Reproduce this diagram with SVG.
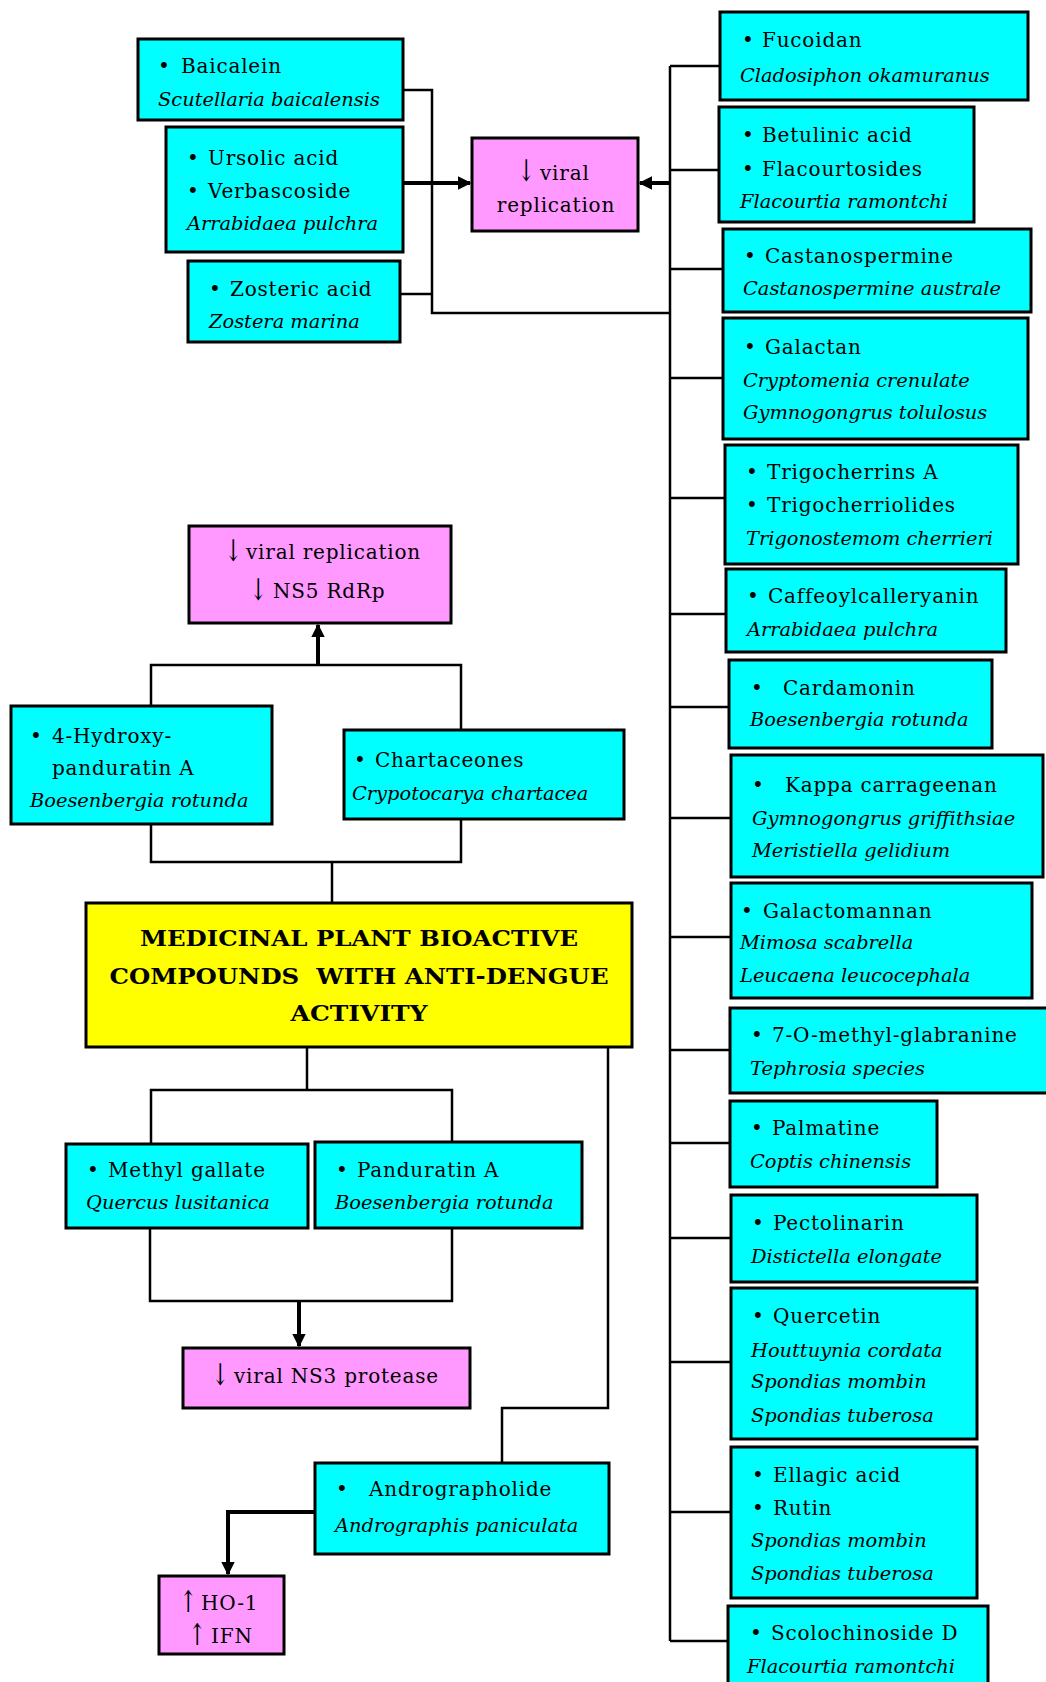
<svg xmlns="http://www.w3.org/2000/svg" width="1046" height="1682" viewBox="0 0 1046 1682">
<style>
.c{fill:#00FFFF;stroke:#000;stroke-width:3}
.m{fill:#FF99FF;stroke:#000;stroke-width:3}
.y{fill:#FFFF00;stroke:#000;stroke-width:3}
text{font-family:"DejaVu Serif","Liberation Serif",serif;font-size:20px;letter-spacing:0.8px;fill:#000}
.i{font-style:italic;font-size:19.4px;letter-spacing:0}
.mid{text-anchor:middle}
.arw{font-size:20px;text-anchor:middle;letter-spacing:0}
.t{font-weight:bold;font-size:23px;text-anchor:middle;letter-spacing:0}
.ln{fill:none;stroke:#000;stroke-width:2.5}
.ar{fill:none;stroke:#000;stroke-width:4}
</style>
<defs>
<marker id="ah" viewBox="0 0 10 10" refX="9" refY="5" markerWidth="3.4" markerHeight="3.4" orient="auto" markerUnits="strokeWidth">
<path d="M0,0 L10,5 L0,10 z" fill="#000"/>
</marker>
</defs>
<rect width="1046" height="1682" fill="#fff"/>
<g id="connectors">
<polyline class="ln" points="403,90 432,90 432,313 670,313"/>
<line class="ln" x1="400" y1="294" x2="432" y2="294"/>
<line class="ar" x1="403" y1="183" x2="470" y2="183" marker-end="url(#ah)"/>
<line class="ar" x1="670" y1="183" x2="640" y2="183" marker-end="url(#ah)"/>
<line class="ln" x1="670" y1="66" x2="670" y2="1641"/>
<line class="ln" x1="670" y1="66" x2="720" y2="66"/>
<line class="ln" x1="670" y1="170" x2="719" y2="170"/>
<line class="ln" x1="670" y1="269" x2="723" y2="269"/>
<line class="ln" x1="670" y1="378" x2="723" y2="378"/>
<line class="ln" x1="670" y1="498" x2="725" y2="498"/>
<line class="ln" x1="670" y1="614" x2="726" y2="614"/>
<line class="ln" x1="670" y1="707" x2="729" y2="707"/>
<line class="ln" x1="670" y1="818" x2="731" y2="818"/>
<line class="ln" x1="670" y1="937" x2="731" y2="937"/>
<line class="ln" x1="670" y1="1050" x2="730" y2="1050"/>
<line class="ln" x1="670" y1="1143" x2="730" y2="1143"/>
<line class="ln" x1="670" y1="1238" x2="731" y2="1238"/>
<line class="ln" x1="670" y1="1362" x2="731" y2="1362"/>
<line class="ln" x1="670" y1="1512" x2="731" y2="1512"/>
<line class="ln" x1="670" y1="1641" x2="728" y2="1641"/>
<polyline class="ln" points="151,706 151,665 461,665 461,730"/>
<line class="ar" x1="318" y1="665" x2="318" y2="625" marker-end="url(#ah)"/>
<polyline class="ln" points="151,824 151,862 461,862 461,819"/>
<line class="ln" x1="332" y1="862" x2="332" y2="903"/>
<line class="ln" x1="307" y1="1047" x2="307" y2="1090"/>
<polyline class="ln" points="151,1144 151,1090 452,1090 452,1142"/>
<polyline class="ln" points="150,1228 150,1301 452,1301 452,1228"/>
<line class="ar" x1="299" y1="1301" x2="299" y2="1346" marker-end="url(#ah)"/>
<polyline class="ln" points="608,1047 608,1408 502,1408 502,1463"/>
<polyline class="ar" points="315,1512 228,1512 228,1574" marker-end="url(#ah)"/>
</g>
<g id="baicalein">
<rect class="c" x="138" y="39" width="265" height="81"/>
<text y="73"><tspan x="158">•</tspan><tspan x="181">Baicalein</tspan></text>
<text class="i" x="158" y="106">Scutellaria baicalensis</text>
</g>
<g id="ursolic">
<rect class="c" x="166" y="127" width="237" height="125"/>
<text y="165"><tspan x="187">•</tspan><tspan x="208">Ursolic acid</tspan></text>
<text y="198"><tspan x="187">•</tspan><tspan x="208">Verbascoside</tspan></text>
<text class="i" x="187" y="230">Arrabidaea pulchra</text>
</g>
<g id="zosteric">
<rect class="c" x="188" y="261" width="212" height="81"/>
<text y="296"><tspan x="209">•</tspan><tspan x="230">Zosteric acid</tspan></text>
<text class="i" x="209" y="328">Zostera marina</text>
</g>
<g id="viral-replication">
<rect class="m" x="472" y="138" width="166" height="93"/>
<text class="arw" transform="translate(526,181) scale(1,1.5)">↓</text>
<text x="540" y="180">viral</text>
<text class="mid" x="556" y="212">replication</text>
</g>
<g id="fucoidan">
<rect class="c" x="720" y="12" width="308" height="88"/>
<text y="47"><tspan x="742">•</tspan><tspan x="762">Fucoidan</tspan></text>
<text class="i" x="740" y="82">Cladosiphon okamuranus</text>
</g>
<g id="betulinic">
<rect class="c" x="719" y="107" width="255" height="115"/>
<text y="142"><tspan x="742">•</tspan><tspan x="762">Betulinic acid</tspan></text>
<text y="176"><tspan x="742">•</tspan><tspan x="762">Flacourtosides</tspan></text>
<text class="i" x="740" y="208">Flacourtia ramontchi</text>
</g>
<g id="castanospermine">
<rect class="c" x="723" y="229" width="308" height="83"/>
<text y="263"><tspan x="744">•</tspan><tspan x="765">Castanospermine</tspan></text>
<text class="i" x="743" y="295">Castanospermine australe</text>
</g>
<g id="galactan">
<rect class="c" x="723" y="318" width="305" height="121"/>
<text y="354"><tspan x="744">•</tspan><tspan x="765">Galactan</tspan></text>
<text class="i" x="743" y="387">Cryptomenia crenulate</text>
<text class="i" x="743" y="419">Gymnogongrus tolulosus</text>
</g>
<g id="trigocherrins">
<rect class="c" x="725" y="445" width="293" height="119"/>
<text y="479"><tspan x="746">•</tspan><tspan x="767">Trigocherrins A</tspan></text>
<text y="512"><tspan x="746">•</tspan><tspan x="767">Trigocherriolides</tspan></text>
<text class="i" x="746" y="545">Trigonostemom cherrieri</text>
</g>
<g id="caffeoylcalleryanin">
<rect class="c" x="726" y="569" width="280" height="83"/>
<text y="603"><tspan x="747">•</tspan><tspan x="768">Caffeoylcalleryanin</tspan></text>
<text class="i" x="747" y="636">Arrabidaea pulchra</text>
</g>
<g id="cardamonin">
<rect class="c" x="729" y="660" width="263" height="88"/>
<text y="695"><tspan x="751">•</tspan><tspan x="783">Cardamonin</tspan></text>
<text class="i" x="750" y="726">Boesenbergia rotunda</text>
</g>
<g id="kappa-carrageenan">
<rect class="c" x="731" y="755" width="312" height="122"/>
<text y="792"><tspan x="752">•</tspan><tspan x="785">Kappa carrageenan</tspan></text>
<text class="i" x="752" y="825">Gymnogongrus griffithsiae</text>
<text class="i" x="752" y="857">Meristiella gelidium</text>
</g>
<g id="galactomannan">
<rect class="c" x="731" y="883" width="301" height="115"/>
<text y="918"><tspan x="741">•</tspan><tspan x="763">Galactomannan</tspan></text>
<text class="i" x="740" y="949">Mimosa scabrella</text>
<text class="i" x="740" y="982">Leucaena leucocephala</text>
</g>
<g id="glabranine">
<rect class="c" x="730" y="1008" width="330" height="85"/>
<text y="1042"><tspan x="751">•</tspan><tspan x="772">7-O-methyl-glabranine</tspan></text>
<text class="i" x="750" y="1075">Tephrosia species</text>
</g>
<g id="palmatine">
<rect class="c" x="730" y="1101" width="207" height="86"/>
<text y="1135"><tspan x="751">•</tspan><tspan x="772">Palmatine</tspan></text>
<text class="i" x="750" y="1168">Coptis chinensis</text>
</g>
<g id="pectolinarin">
<rect class="c" x="731" y="1195" width="246" height="87"/>
<text y="1230"><tspan x="752">•</tspan><tspan x="773">Pectolinarin</tspan></text>
<text class="i" x="751" y="1263">Distictella elongate</text>
</g>
<g id="quercetin">
<rect class="c" x="731" y="1288" width="246" height="151"/>
<text y="1323"><tspan x="752">•</tspan><tspan x="773">Quercetin</tspan></text>
<text class="i" x="751" y="1357">Houttuynia cordata</text>
<text class="i" x="751" y="1388">Spondias mombin</text>
<text class="i" x="751" y="1422">Spondias tuberosa</text>
</g>
<g id="ellagic">
<rect class="c" x="731" y="1447" width="246" height="151"/>
<text y="1482"><tspan x="752">•</tspan><tspan x="773">Ellagic acid</tspan></text>
<text y="1515"><tspan x="752">•</tspan><tspan x="773">Rutin</tspan></text>
<text class="i" x="751" y="1547">Spondias mombin</text>
<text class="i" x="751" y="1580">Spondias tuberosa</text>
</g>
<g id="scolochinoside">
<rect class="c" x="728" y="1606" width="260" height="90"/>
<text y="1640"><tspan x="750">•</tspan><tspan x="771">Scolochinoside D</tspan></text>
<text class="i" x="747" y="1673">Flacourtia ramontchi</text>
</g>
<g id="ns5">
<rect class="m" x="189" y="526" width="262" height="97"/>
<text class="arw" transform="translate(233,561) scale(1,1.5)">↓</text>
<text x="246" y="559">viral replication</text>
<text class="arw" transform="translate(258,600) scale(1,1.5)">↓</text>
<text x="273" y="598">NS5 RdRp</text>
</g>
<g id="hydroxypanduratin">
<rect class="c" x="11" y="706" width="261" height="118"/>
<text y="743"><tspan x="30">•</tspan><tspan x="52">4-Hydroxy-</tspan></text>
<text x="52" y="775">panduratin A</text>
<text class="i" x="30" y="807">Boesenbergia rotunda</text>
</g>
<g id="chartaceones">
<rect class="c" x="344" y="730" width="280" height="89"/>
<text y="767"><tspan x="354">•</tspan><tspan x="375">Chartaceones</tspan></text>
<text class="i" x="352" y="800">Crypotocarya chartacea</text>
</g>
<g id="title">
<rect class="y" x="86" y="903" width="546" height="144"/>
<text class="t" x="359" y="946" textLength="438" lengthAdjust="spacingAndGlyphs">MEDICINAL PLANT BIOACTIVE</text>
<text class="t" x="359" y="984" textLength="499" lengthAdjust="spacingAndGlyphs" xml:space="preserve">COMPOUNDS  WITH ANTI-DENGUE</text>
<text class="t" x="359" y="1021" textLength="137" lengthAdjust="spacingAndGlyphs">ACTIVITY</text>
</g>
<g id="methyl-gallate">
<rect class="c" x="66" y="1144" width="242" height="84"/>
<text y="1177"><tspan x="87">•</tspan><tspan x="108">Methyl gallate</tspan></text>
<text class="i" x="86" y="1209">Quercus lusitanica</text>
</g>
<g id="panduratin">
<rect class="c" x="315" y="1142" width="267" height="86"/>
<text y="1177"><tspan x="336">•</tspan><tspan x="357">Panduratin A</tspan></text>
<text class="i" x="335" y="1209">Boesenbergia rotunda</text>
</g>
<g id="ns3">
<rect class="m" x="183" y="1348" width="287" height="60"/>
<text class="arw" transform="translate(220,1385) scale(1,1.5)">↓</text>
<text x="234" y="1383">viral NS3 protease</text>
</g>
<g id="andrographolide">
<rect class="c" x="315" y="1463" width="294" height="91"/>
<text y="1496"><tspan x="336">•</tspan><tspan x="369">Andrographolide</tspan></text>
<text class="i" x="335" y="1532">Andrographis paniculata</text>
</g>
<g id="ho1">
<rect class="m" x="159" y="1576" width="125" height="78"/>
<text class="arw" transform="translate(188,1612) scale(1,1.5)">↑</text>
<text x="201" y="1610">HO-1</text>
<text class="arw" transform="translate(197,1645) scale(1,1.5)">↑</text>
<text x="211" y="1643">IFN</text>
</g>
</svg>
